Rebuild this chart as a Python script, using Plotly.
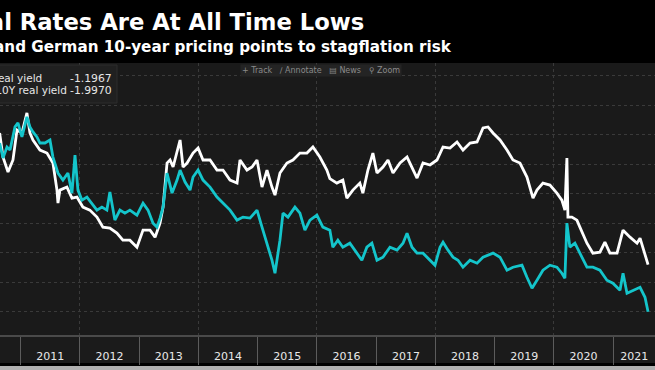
import pandas as pd
import plotly.graph_objects as go

# ---------------- data (decimal years, yield %) ----------------
us_t = [2010.645, 2010.701, 2010.786, 2010.870, 2010.938, 2011.022, 2011.106, 2011.157, 2011.208, 2011.326,
        2011.444, 2011.545, 2011.613, 2011.630, 2011.663, 2011.781, 2011.866, 2011.950, 2012.051, 2012.169,
        2012.288, 2012.389, 2012.507, 2012.625, 2012.726, 2012.844, 2012.963, 2013.064, 2013.182, 2013.267,
        2013.351, 2013.402, 2013.469, 2013.520, 2013.571, 2013.689, 2013.739, 2013.807, 2013.908, 2013.993,
        2014.077, 2014.195, 2014.313, 2014.414, 2014.533, 2014.651, 2014.701, 2014.819, 2014.904, 2014.988,
        2015.073, 2015.157, 2015.241, 2015.292, 2015.376, 2015.494, 2015.595, 2015.713, 2015.831, 2015.932,
        2016.050, 2016.168, 2016.219, 2016.337, 2016.438, 2016.506, 2016.607, 2016.725, 2016.776, 2016.861,
        2016.945, 2017.012, 2017.113, 2017.198, 2017.282, 2017.401, 2017.519, 2017.603, 2017.688, 2017.789,
        2017.907, 2018.025, 2018.127, 2018.245, 2018.363, 2018.464, 2018.583, 2018.701, 2018.802, 2018.886,
        2018.971, 2019.089, 2019.207, 2019.308, 2019.426, 2019.544, 2019.595, 2019.646, 2019.713, 2019.814,
        2019.932, 2020.050, 2020.134, 2020.185, 2020.219, 2020.236, 2020.303, 2020.388, 2020.438, 2020.557,
        2020.658, 2020.776, 2020.860, 2020.945, 2021.063, 2021.164, 2021.282, 2021.400, 2021.451, 2021.535,
        2021.586]
us_v = [1.034, 0.626, 0.372, 0.576, 1.085, 1.034, 1.374, 1.034, 0.915, 0.745,
        0.694, 0.525, 0.066, -0.155, 0.066, 0.117, -0.070, -0.053, -0.222, -0.273,
        -0.392, -0.562, -0.579, -0.664, -0.783, -0.783, -0.902, -0.613, -0.613, -0.732,
        -0.494, -0.222, 0.525, 0.576, 0.457, 0.915, 0.457, 0.525, 0.694, 0.779,
        0.576, 0.576, 0.406, 0.406, 0.236, 0.185, 0.576, 0.406, 0.457, 0.576,
        0.117, 0.406, 0.117, -0.019, 0.355, 0.525, 0.576, 0.694, 0.694, 0.796,
        0.626, 0.406, 0.260, 0.185, 0.236, -0.070, 0.066, 0.185, 0.015, 0.406,
        0.694, 0.355, 0.457, 0.576, 0.355, 0.525, 0.626, 0.457, 0.270, 0.525,
        0.491, 0.576, 0.796, 0.779, 0.881, 0.745, 0.864, 0.881, 1.119, 1.136,
        1.034, 0.915, 0.745, 0.576, 0.525, 0.287, 0.117, -0.070, 0.066, 0.185,
        0.151, 0.015, -0.104, -0.273, 0.610, -0.392, -0.392, -0.443, -0.562, -0.834,
        -1.003, -0.986, -0.817, -1.003, -1.003, -0.613, -0.732, -0.834, -0.749, -1.003,
        -1.1967]

de_t = [2010.645, 2010.701, 2010.769, 2010.820, 2010.904, 2010.954, 2011.022, 2011.106, 2011.157, 2011.208,
        2011.275, 2011.326, 2011.410, 2011.495, 2011.545, 2011.630, 2011.714, 2011.798, 2011.866, 2011.917,
        2011.967, 2012.035, 2012.119, 2012.203, 2012.288, 2012.372, 2012.456, 2012.507, 2012.591, 2012.676,
        2012.760, 2012.844, 2012.963, 2013.064, 2013.148, 2013.233, 2013.300, 2013.351, 2013.402, 2013.469,
        2013.554, 2013.638, 2013.689, 2013.773, 2013.857, 2013.908, 2013.993, 2014.077, 2014.195, 2014.313,
        2014.414, 2014.533, 2014.651, 2014.752, 2014.870, 2014.988, 2015.073, 2015.157, 2015.241, 2015.292,
        2015.376, 2015.427, 2015.511, 2015.629, 2015.713, 2015.797, 2015.882, 2016.000, 2016.101, 2016.219,
        2016.269, 2016.354, 2016.438, 2016.556, 2016.675, 2016.759, 2016.843, 2016.928, 2017.012, 2017.113,
        2017.231, 2017.350, 2017.451, 2017.519, 2017.603, 2017.688, 2017.789, 2017.907, 2017.991, 2018.076,
        2018.127, 2018.211, 2018.296, 2018.380, 2018.464, 2018.583, 2018.701, 2018.802, 2018.971, 2019.089,
        2019.207, 2019.308, 2019.460, 2019.544, 2019.629, 2019.713, 2019.814, 2019.932, 2020.050, 2020.134,
        2020.185, 2020.219, 2020.269, 2020.354, 2020.438, 2020.557, 2020.658, 2020.776, 2020.894, 2020.995,
        2021.113, 2021.164, 2021.231, 2021.333, 2021.451, 2021.535, 2021.586]
de_v = [0.864, 0.610, 0.796, 0.745, 1.136, 1.204, 0.966, 1.306, 1.136, 1.051,
        0.966, 0.864, 0.864, 0.915, 0.626, 0.355, 0.236, 0.355, 0.015, 0.660,
        0.066, -0.104, -0.053, -0.155, -0.273, -0.222, -0.273, 0.032, -0.443, -0.273,
        -0.324, -0.273, -0.358, -0.155, -0.273, -0.494, -0.562, -0.409, -0.222, 0.355,
        0.015, 0.236, 0.406, 0.202, 0.066, 0.287, 0.406, 0.236, 0.117, -0.053,
        -0.155, -0.273, -0.443, -0.392, -0.409, -0.273, -0.562, -0.834, -1.122, -1.343,
        -0.783, -0.324, -0.392, -0.222, -0.324, -0.613, -0.443, -0.358, -0.562, -0.613,
        -0.902, -0.783, -0.902, -0.834, -1.003, -1.122, -0.902, -0.834, -1.122, -1.071,
        -0.902, -0.952, -0.834, -0.664, -0.902, -1.003, -1.003, -1.122, -1.207, -0.902,
        -0.817, -0.952, -1.071, -1.122, -1.241, -1.122, -1.173, -1.071, -1.003, -1.071,
        -1.292, -1.241, -1.207, -1.411, -1.598, -1.462, -1.292, -1.207, -1.241, -1.343,
        -1.428, -0.494, -0.902, -0.834, -1.003, -1.241, -1.241, -1.292, -1.462, -1.513,
        -1.632, -1.343, -1.683, -1.632, -1.581, -1.751, -1.9970]

years = list(range(2011, 2022))
us_name = "US 10Y real yield"
de_name = "German 10Y real yield"
us_last = "-1.1967"
de_last = "-1.9970"
title_text = "Real Rates Are At All Time Lows"
subtitle_text = "U.S. and German 10-year pricing points to stagflation risk"
view_start, view_end = 2010.651, 2021.7035


def to_date(y):
    yr = int(y)
    return pd.Timestamp(yr, 1, 1) + pd.Timedelta(days=(y - yr) * 365.25)


# year labels sit in the middle of the visible part of each year
label_pos = [to_date((max(y, view_start) + min(y + 1, view_end)) / 2) for y in years]
label_txt = [str(y) for y in years]

W, H = 655, 370
TOP, BOT = 63, 335
PH = BOT - TOP


def py(pix):
    return (BOT - pix) / PH


fig = go.Figure()
fig.add_trace(go.Scatter(x=[to_date(t) for t in us_t], y=us_v, mode="lines", name=us_name,
                         line=dict(color="#ffffff", width=2.8), hoverinfo="skip"))
fig.add_trace(go.Scatter(x=[to_date(t) for t in de_t], y=de_v, mode="lines", name=de_name,
                         line=dict(color="#14c5cb", width=2.8), hoverinfo="skip"))
fig.add_trace(go.Scatter(x=[], y=[], xaxis="x2", showlegend=False, hoverinfo="skip"))
fig.add_trace(go.Scatter(x=[], y=[], xaxis="x3", showlegend=False, hoverinfo="skip"))

rng = [to_date(view_start), to_date(view_end)]

fig.update_layout(
    width=W, height=H,
    margin=dict(l=0, r=0, t=TOP, b=H - BOT, pad=0),
    paper_bgcolor="#000000", plot_bgcolor="#1a1a1a",
    showlegend=False,
    xaxis=dict(type="date", range=rng, dtick="M12", tick0="2011-01-01",
               showticklabels=False,
               ticks="outside", ticklen=28, tickwidth=1, tickcolor="#5c5c5c",
               showgrid=False, showline=True, linecolor="#4a4a4a", linewidth=2,
               zeroline=False, fixedrange=True),
    xaxis2=dict(type="date", range=rng, overlaying="x", dtick="M24", tick0="2012-01-01",
                showgrid=True, gridcolor="#3a3a3a", griddash="dot", gridwidth=1,
                showticklabels=False, ticks="", showline=False, zeroline=False),
    xaxis3=dict(type="date", range=rng, overlaying="x", side="bottom",
                tickmode="array", tickvals=label_pos, ticktext=label_txt,
                ticks="outside", ticklen=28, tickcolor="rgba(0,0,0,0)",
                ticklabelstandoff=-17, ticklabeloverflow="allow",
                tickfont=dict(family="DejaVu Sans", size=11, color="#e8e8e8"),
                showgrid=False, showline=False, zeroline=False),
    yaxis=dict(range=[-2.39, 2.22], dtick=0.5, tick0=0, showgrid=True,
               gridcolor="#3a3a3a", griddash="dot", gridwidth=1,
               showticklabels=False, ticks="", zeroline=False, showline=False),
    shapes=[
        dict(type="rect", xref="paper", yref="paper", x0=0, x1=1, y0=py(363), y1=0,
             fillcolor="#1b1b1b", line=dict(width=0), layer="below"),
        dict(type="rect", xref="paper", yref="paper", x0=0, x1=1, y0=py(371), y1=py(366),
             fillcolor="#b0b0b0", line=dict(width=0), layer="above"),
        dict(type="rect", xref="paper", yref="paper", x0=-0.01, x1=117 / W, y0=py(103), y1=py(65),
             fillcolor="#202020", line=dict(color="#2c2c2c", width=1), layer="above"),
    ],
    annotations=[
        dict(text=f"<b>{title_text}</b>", xref="paper", yref="paper", x=366 / W, y=py(22),
             xanchor="right", yanchor="middle", showarrow=False,
             font=dict(family="DejaVu Sans", size=22.7, color="#ffffff")),
        dict(text=f"<b>{subtitle_text}</b>", xref="paper", yref="paper", x=454 / W, y=py(47),
             xanchor="right", yanchor="middle", showarrow=False,
             font=dict(family="DejaVu Sans", size=15.2, color="#ffffff")),
        dict(text=us_name, xref="paper", yref="paper", x=44 / W, y=py(78),
             xanchor="right", yanchor="middle", showarrow=False,
             font=dict(family="DejaVu Sans", size=10.5, color="#e6e6e6")),
        dict(text=de_name, xref="paper", yref="paper", x=69 / W, y=py(90),
             xanchor="right", yanchor="middle", showarrow=False,
             font=dict(family="DejaVu Sans", size=10.5, color="#e6e6e6")),
        dict(text=us_last, xref="paper", yref="paper", x=114 / W, y=py(78),
             xanchor="right", yanchor="middle", showarrow=False,
             font=dict(family="DejaVu Sans", size=10.8, color="#e6e6e6")),
        dict(text=de_last, xref="paper", yref="paper", x=114 / W, y=py(90),
             xanchor="right", yanchor="middle", showarrow=False,
             font=dict(family="DejaVu Sans", size=10.8, color="#e6e6e6")),
        dict(text="+ Track   ∕ Annotate   ▤ News   ⚲ Zoom", xref="paper", yref="paper",
             x=321 / W, y=py(70), xanchor="center", yanchor="middle", showarrow=False,
             bgcolor="#242424", borderpad=1,
             font=dict(family="DejaVu Sans", size=8, color="#8a8a8a")),
    ],
)

fig.write_html("out.html", config={"displayModeBar": False},
               post_script="document.body.style.margin='0px';document.body.style.overflow='hidden';")
